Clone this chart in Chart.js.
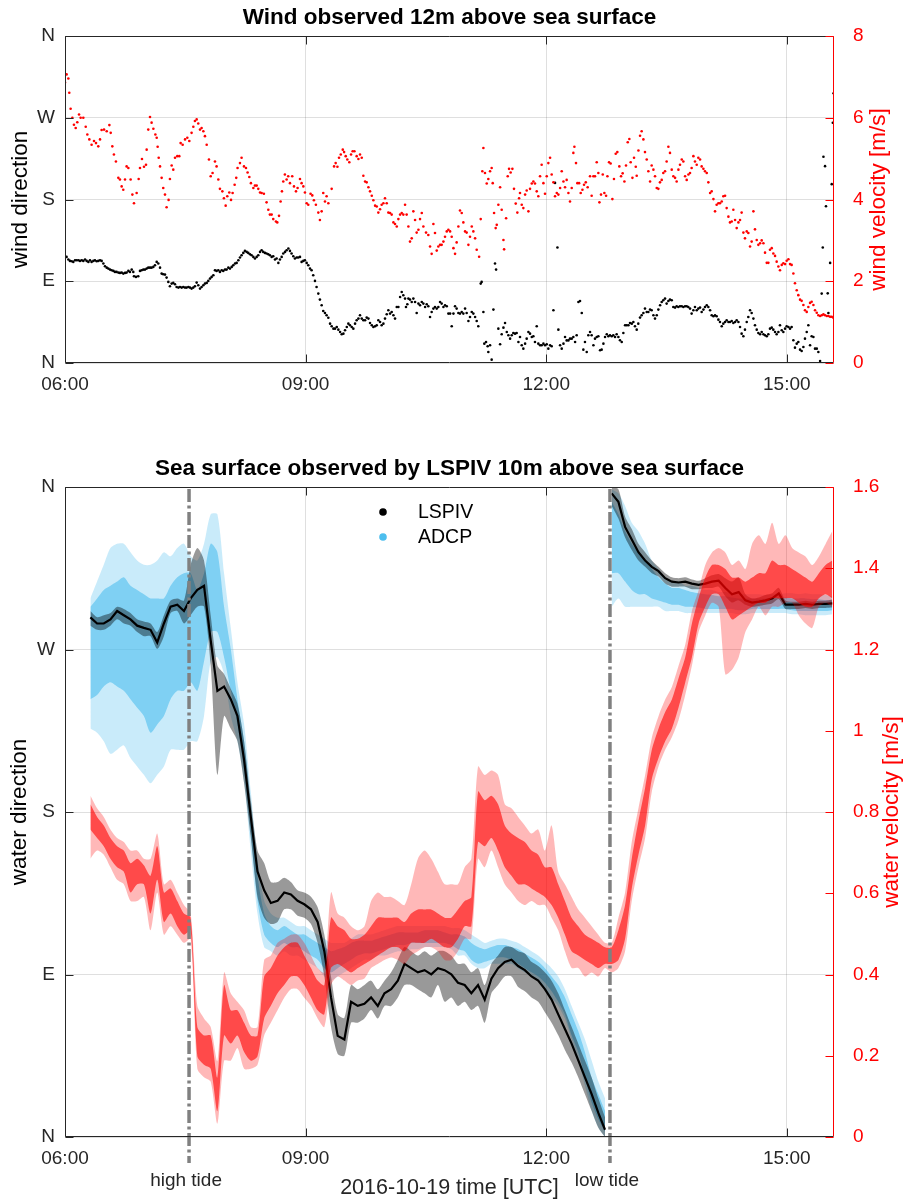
<!DOCTYPE html>
<html>
<head>
<meta charset="utf-8">
<script src="https://cdn.jsdelivr.net/npm/chart.js@4.4.1/dist/chart.umd.min.js"></script>
<style>
  body { margin: 0; background: #fff; }
  .panel { position: absolute; left: 0; }
</style>
</head>
<body>
<div class="panel" style="top:0"><canvas id="windChart" width="905" height="400"></canvas></div>
<div class="panel" style="top:420px"><canvas id="seaChart" width="905" height="780"></canvas></div>
<script>
// time axis is in minutes after 06:00 UTC
const timeTicks = [0, 180, 360, 540];
const timeLabels = ['06:00', '09:00', '12:00', '15:00'];
const timeMax = 575.3;
const dirTicks = [0, 90, 180, 270, 360];
const dirLabels = ['N', 'E', 'S', 'W', 'N'];
const windSpeedTicks = [0, 2, 4, 6, 8];
const waterSpeedTicks = [0, 0.2, 0.4, 0.6, 0.8, 1, 1.2, 1.4, 1.6];
const waterSpeedLabels = ['0', '0.2', '0.4', '0.6', '0.8', '1', '1.2', '1.4', '1.6'];
const tideTimes = [92.8, 407.7];
const tideLabels = ['high tide', 'low tide'];

// top panel: [minute, m/s]
const windSpeed = [
  [0,6.86],[1.2,7.06],[2.5,6.96],[3.2,6.61],[4.2,6.22],[5.5,6.0],[6.7,5.83],[8.0,5.75],[9.2,5.89],[10.5,6.08],
  [11.7,6.0],[13.7,6.0],[15.5,5.78],[16.7,5.59],[18.2,5.47],[19.9,5.34],[21.7,5.43],[23.2,5.38],[24.9,5.30],[26.2,5.47],
  [27.4,5.70],[29.2,5.71],[31.2,5.67],[33.2,5.82],[34.2,5.63],[35.4,5.30],[36.6,5.10],[38.1,4.93],[39.9,4.53],[41.1,4.49],
  [42.4,4.32],[43.6,4.24],[44.9,4.49],[46.1,4.81],[47.4,4.77],[49.1,4.49],[50.4,4.12],[51.6,3.91],[53.6,4.16],[55.1,4.50],
  [56.1,4.77],[57.6,4.99],[59.1,4.80],[60.6,4.85],[61.1,5.22],[62.3,5.71],[63.6,6.02],[64.8,5.88],[66.1,5.73],[67.6,5.59],
  [68.6,5.51],[69.3,5.29],[70.1,5.02],[71.1,4.81],[72.3,4.53],[73.5,4.28],[74.8,4.12],[76.0,3.81],[77.5,3.99],[78.5,4.50],
  [79.8,4.83],[81.0,4.73],[82.3,5.02],[84.0,5.06],[85.5,5.06],[86.5,5.38],[88.0,5.34],[89.8,5.47],[91.5,5.51],[93.0,5.43],
  [94.7,5.63],[96.0,5.78],[97.2,5.92],[98.5,5.96],[99.7,5.86],[101.0,5.71],[102.2,5.75],[103.5,5.67],[104.7,5.55],[106.0,5.34],
  [107.7,4.98],[109.0,4.57],[110.4,4.65],[112.2,4.93],[113.4,4.81],[114.7,4.49],[115.9,4.26],[117.7,4.20],[118.9,4.03],[120.2,3.85],
  [121.4,4.08],[122.9,4.17],[124.2,3.99],[125.4,4.16],[126.9,4.36],[128.1,4.53],[129.1,4.77],[130.9,4.89],[132.1,5.02],[133.9,4.81],
  [135.4,4.77],[136.6,4.66],[137.9,4.55],[139.1,4.40],[140.9,4.28],[142.1,4.34],[143.4,4.34],[144.6,4.26],[145.9,4.17],[147.1,4.16],
  [148.8,4.14],[150.8,3.93],[152.1,3.75],[153.3,3.63],[154.6,3.63],[155.8,3.52],[157.8,3.46],[158.8,3.44],[160.1,3.60],[161.3,3.95],
  [162.3,4.20],[163.3,4.44],[164.5,4.61],[165.8,4.49],[167.0,4.57],[168.3,4.40],[170.0,4.57],[171.3,4.32],[172.8,4.20],[174.0,4.28],
  [175.8,4.50],[177.0,4.40],[178.3,4.32],[179.5,4.17],[180.8,3.91],[182.0,3.87],[183.7,4.14],[185.0,4.10],[186.2,3.98],[187.7,3.87],
  [189.5,3.68],[190.7,3.50],[192.0,3.71],[193.2,4.16],[194.5,3.95],[195.7,4.08],[197.0,3.91],[199.5,4.26],[201.3,4.81],[202.5,4.89],
  [203.8,4.80],[205.0,5.02],[206.3,5.10],[207.8,5.22],[208.8,5.16],[210.0,5.06],[211.2,4.98],[212.7,4.91],[214.0,5.10],[215.2,5.18],
  [216.5,5.18],[218.2,5.06],[219.5,4.99],[220.7,5.10],[222.0,5.02],[223.2,4.58],[224.5,4.44],[225.7,4.42],[227.0,4.30],[228.2,4.20],
  [229.5,4.09],[230.7,3.98],[232.0,3.85],[233.2,3.83],[234.4,3.68],[235.7,3.76],[236.9,3.87],[238.2,3.91],[239.4,4.03],[240.7,3.91],
  [241.9,3.68],[243.2,3.67],[244.4,3.63],[245.7,3.44],[246.9,3.40],[248.2,3.34],[249.4,3.52],[250.7,3.63],[251.9,3.67],[253.1,3.63],
  [254.4,3.87],[255.6,3.63],[256.9,3.34],[258.1,2.97],[259.4,3.05],[260.6,3.71],[261.9,3.50],[263.1,3.19],[264.4,3.26],[265.6,3.52],
  [266.9,3.67],[268.1,3.34],[270.1,3.19],[271.8,3.13],[273.1,2.85],[274.3,2.67],[275.6,3.40],[276.8,3.18],[278.1,2.75],[279.3,2.85],
  [280.6,2.89],[281.8,2.89],[283.1,2.97],[284.3,3.09],[285.6,3.22],[286.8,3.26],[288.1,3.22],[289.3,3.09],[290.6,2.81],[291.8,2.67],
  [293.0,2.95],[294.3,3.34],[295.5,3.73],[296.8,3.67],[298.0,3.44],[299.3,3.22],[300.5,3.19],[301.8,2.89],[303.0,3.09],[304.3,3.34],
  [305.5,3.22],[306.8,3.05],[308.0,2.77],[309.8,2.60],[311.0,3.52],[312.2,4.69],[313.0,5.26],[314.2,4.65],[315.5,4.39],[316.7,4.50],
  [318.0,4.69],[319.2,4.77],[320.0,4.40],[321.0,3.67],[322.2,3.30],[323.0,3.38],[324.2,3.87],[325.5,4.30],[326.7,3.75],[328.0,3.01],
  [328.5,2.78],[330.0,3.54],[331.2,4.57],[332.2,4.75],[333.4,4.66],[334.7,4.75],[335.9,4.26],[337.2,3.90],[338.4,3.68],[339.7,4.03],
  [340.4,4.16],[341.7,3.87],[342.9,3.79],[344.2,4.12],[345.4,4.22],[346.7,3.71],[347.9,4.26],[349.2,4.39],[350.4,4.44],[351.6,4.39],
  [352.9,4.20],[354.1,4.08],[355.4,4.57],[356.6,4.85],[357.9,4.40],[359.1,4.14],[360.4,4.57],[361.6,4.89],[362.9,5.02],[364.1,4.61],
  [365.4,4.42],[366.6,4.08],[367.9,4.16],[369.1,4.12],[370.4,4.28],[371.6,4.69],[372.9,4.44],[374.1,4.30],[375.3,4.48],[376.6,4.16],
  [377.8,3.95],[379.1,4.28],[380.3,5.14],[381.1,5.29],[382.3,4.89],[383.3,4.40],[384.6,4.40],[385.8,4.16],[387.1,4.24],[388.3,4.36],
  [389.6,4.42],[391.0,4.30],[392.8,4.57],[394.0,4.09],[395.3,4.57],[396.5,4.57],[397.8,4.91],[399.0,4.65],[399.8,3.93],[401.0,4.12],
  [402.3,4.61],[403.5,4.16],[404.8,4.09],[405.8,4.57],[407.0,4.91],[408.2,4.88],[409.5,4.01],[410.7,4.50],[412.0,5.12],[413.2,5.16],
  [414.7,4.81],[416.0,4.57],[417.2,4.64],[418.5,4.44],[419.7,4.83],[421.0,5.40],[422.2,5.48],[423.2,4.91],[424.5,4.53],[425.7,5.02],
  [427.0,4.80],[427.7,4.58],[429.0,5.20],[430.2,5.56],[431.4,5.67],[432.7,5.47],[433.9,5.16],[435.2,4.98],[436.4,4.69],[437.7,4.44],
  [438.9,4.83],[440.2,4.73],[441.4,4.57],[442.7,4.28],[443.9,4.26],[445.1,4.42],[446.4,4.48],[447.6,4.65],[448.9,4.69],[450.1,4.93],
  [451.4,5.29],[452.6,5.14],[453.9,4.73],[455.1,4.57],[456.4,4.53],[457.6,4.44],[458.9,4.73],[460.1,4.85],[461.4,4.98],[462.6,4.93],
  [463.9,4.57],[465.1,4.48],[466.4,4.61],[467.6,4.65],[468.8,4.77],[470.1,5.06],[471.3,4.93],[472.6,4.85],[473.8,5.02],[475.1,4.98],
  [476.3,4.81],[477.6,4.75],[478.8,4.69],[480.1,4.65],[481.3,4.42],[482.6,4.16],[483.8,4.20],[485.1,4.01],[486.3,3.71],[487.5,3.87],
  [488.8,3.91],[490.0,3.91],[491.3,3.95],[492.5,4.08],[493.8,4.09],[495.0,3.79],[496.3,3.58],[497.5,3.44],[498.8,3.46],[500.0,3.75],
  [501.3,3.50],[502.5,3.30],[503.8,3.44],[505.0,3.50],[506.2,3.68],[507.5,3.19],[508.7,3.05],[510.0,3.22],[511.2,3.18],[512.5,2.85],
  [513.7,2.97],[515.0,3.71],[516.2,3.27],[517.5,3.01],[518.7,2.89],[520.0,2.93],[521.2,3.00],[522.5,2.93],[523.7,2.70],[525.0,2.45],
  [526.2,2.45],[527.4,2.77],[528.7,2.81],[529.9,2.68],[531.2,2.62],[532.4,2.48],[533.7,2.36],[534.9,2.27],[536.2,2.40],[537.4,2.44],
  [538.7,2.42],[539.9,2.50],[541.2,2.54],[542.4,2.42],[543.6,2.40],[544.9,2.19],[546.1,1.95],[547.4,1.78],[548.6,1.66],[549.9,1.55],
  [551.1,1.52],[552.4,1.42],[553.6,1.29],[554.9,1.25],[556.1,1.37],[557.4,1.47],[558.6,1.50],[559.9,1.42],[561.1,1.29],[562.4,1.23],
  [563.6,1.17],[564.9,1.15],[566.1,1.17],[567.4,1.19],[568.6,1.17],[569.9,1.15],[571.1,1.15],[572.4,1.13],[573.6,1.13],[574.8,1.11]
];

// top panel: [minute, degrees from N]
const windDirection = [
  [0,117.5],[1.2,116.8],[2.5,113.9],[3.7,112.4],[5.0,112.0],[6.2,111.3],[7.5,113.1],[8.7,113.1],[10.0,113.1],[11.2,112.4],
  [12.5,113.1],[13.7,112.4],[15.0,113.9],[16.2,112.4],[17.5,111.3],[18.7,113.1],[19.9,111.3],[21.2,112.4],[22.4,113.1],[23.7,112.0],
  [24.9,112.4],[26.2,113.1],[27.4,112.4],[28.7,109.5],[29.9,106.5],[31.2,105.0],[32.4,103.9],[33.7,102.8],[34.9,102.1],[36.2,101.4],
  [37.4,100.3],[38.6,100.3],[39.9,99.5],[41.1,99.2],[42.4,99.5],[43.6,98.4],[44.9,99.2],[46.1,99.5],[47.4,101.4],[48.6,100.3],
  [49.9,102.8],[51.1,100.3],[51.6,95.5],[53.1,94.8],[54.8,95.5],[56.1,101.4],[57.3,102.1],[58.6,102.8],[59.8,102.8],[61.1,103.9],
  [62.3,105.0],[63.6,105.0],[64.8,105.0],[66.1,105.8],[67.3,107.6],[68.6,111.3],[69.8,109.5],[71.1,105.0],[72.3,98.4],[73.5,97.7],
  [74.8,97.3],[76.0,94.0],[77.3,89.3],[78.5,84.5],[79.8,87.4],[81.0,88.2],[82.3,86.7],[83.5,83.7],[84.8,83.0],[86.0,83.7],
  [87.3,83.0],[88.5,83.7],[89.8,83.0],[91.0,83.0],[92.3,83.7],[93.5,83.0],[94.7,81.9],[96.0,83.0],[97.2,84.5],[98.5,88.5],
  [99.7,85.6],[101.0,81.9],[102.2,83.7],[103.5,85.6],[104.7,87.4],[106.0,88.2],[107.2,90.4],[108.5,92.9],[109.7,94.8],[111.0,96.6],
  [112.2,102.1],[113.4,101.4],[114.7,102.1],[115.9,100.3],[117.2,102.1],[118.4,101.4],[119.7,102.8],[120.9,102.8],[122.2,105.0],[123.4,103.9],
  [124.7,105.8],[125.9,107.6],[127.2,109.5],[128.4,110.2],[129.7,113.1],[130.9,116.1],[132.1,118.6],[133.4,121.2],[134.6,123.4],[135.9,122.3],
  [137.1,121.2],[138.4,119.7],[139.6,118.6],[140.9,116.8],[142.1,115.0],[143.4,116.8],[144.6,118.6],[145.9,122.3],[147.1,124.1],[148.3,122.3],
  [149.6,121.2],[150.8,120.5],[152.1,119.7],[153.3,118.6],[154.6,116.8],[155.8,117.5],[157.1,113.9],[158.3,115.0],[159.6,110.2],[160.8,113.9],
  [162.1,116.8],[163.3,120.5],[164.6,122.3],[165.8,124.1],[167.1,126.0],[168.3,123.4],[169.5,120.5],[170.8,117.5],[172.0,115.0],[173.3,116.1],
  [174.5,116.1],[175.8,116.8],[177.0,111.3],[178.3,112.4],[179.5,113.1],[180.8,110.2],[182.0,107.6],[183.3,103.9],[184.5,102.1],[185.7,96.6],
  [187.0,90.4],[188.2,83.7],[189.5,76.4],[190.7,69.8],[192.0,63.5],[193.2,57.3],[194.5,55.1],[195.7,52.5],[197.0,49.8],[198.3,43.3],
  [199.5,40.4],[200.8,37.8],[202.0,37.8],[203.3,39.7],[204.5,36.7],[205.8,34.2],[207.0,31.6],[208.3,32.3],[209.5,36.0],[210.8,39.7],
  [212.0,43.3],[213.2,41.5],[214.5,39.7],[215.7,37.8],[217.0,43.3],[218.2,47.0],[219.5,48.9],[220.7,52.5],[222.0,48.9],[223.2,47.0],
  [224.5,47.0],[225.7,50.0],[227.0,48.9],[228.2,44.1],[229.5,41.5],[230.7,39.7],[232.0,40.4],[233.2,41.5],[234.4,47.0],[235.7,45.2],
  [236.9,41.5],[238.2,43.3],[239.4,48.9],[240.7,53.6],[241.9,58.0],[243.2,54.4],[244.4,56.2],[245.7,52.5],[246.9,48.9],[248.2,61.7],
  [249.4,61.7],[250.7,72.7],[251.9,78.2],[253.1,74.6],[254.4,70.9],[255.1,61.7],[256.1,64.6],[256.9,70.9],[258.1,69.8],[259.4,67.2],
  [260.6,70.9],[261.9,67.2],[263.1,55.1],[264.4,65.4],[265.6,63.5],[266.9,67.2],[268.1,65.4],[269.4,61.7],[270.6,64.6],[271.8,62.4],
  [273.1,50.7],[274.3,56.2],[275.6,59.9],[276.8,61.7],[278.1,59.9],[279.3,61.7],[280.6,67.2],[281.8,65.4],[283.1,61.7],[284.3,63.5],
  [285.6,62.4],[286.8,54.4],[288.1,54.4],[289.3,40.4],[290.6,54.4],[291.8,62.4],[293.0,59.9],[294.3,55.1],[295.5,54.4],[296.8,56.2],
  [298.0,54.4],[299.3,59.9],[300.5,55.1],[301.8,46.3],[303.0,50.7],[304.3,56.2],[305.5,54.4],[306.8,50.7],[308.0,46.3],[309.2,40.4],
  [311.0,87.4],[311.7,89.3],[313.0,56.2],[313.7,21.3],[315.0,23.1],[316.2,18.4],[316.7,12.1],[318.0,19.5],[319.2,3.7],[320.5,58.8],
  [321.7,109.5],[322.5,102.8],[324.2,37.8],[325.5,20.6],[326.7,31.6],[328.0,38.9],[329.2,44.1],[330.5,34.2],[331.7,30.5],[333.0,26.8],
  [334.2,30.5],[335.4,33.1],[336.7,32.3],[337.9,33.1],[339.2,23.1],[340.4,28.6],[341.7,19.5],[342.9,15.8],[344.2,21.3],[345.4,26.8],
  [346.7,34.2],[347.9,32.3],[349.2,28.6],[350.4,29.4],[351.6,23.1],[352.9,40.4],[354.1,21.3],[355.4,19.5],[356.6,19.5],[357.9,21.3],
  [359.1,19.5],[360.4,20.6],[361.6,15.8],[362.9,19.5],[364.1,18.4],[365.4,58.0],[366.6,198.3],[368.4,127.1],[369.1,36.7],[370.4,19.5],
  [371.6,15.8],[372.9,21.3],[374.1,28.6],[375.3,24.9],[376.6,24.9],[377.8,26.8],[379.1,26.8],[380.3,28.6],[381.6,23.1],[382.8,30.5],
  [384.1,67.2],[385.3,68.3],[386.6,55.1],[387.8,14.7],[389.0,23.1],[390.3,12.1],[391.5,30.5],[392.8,34.2],[394.0,30.5],[395.3,19.5],
  [396.5,26.8],[397.8,28.6],[399.0,29.4],[400.3,14.0],[401.5,14.7],[402.8,21.3],[404.0,28.6],[405.3,31.6],[406.5,29.4],[407.7,30.5],
  [409.0,29.4],[410.2,30.5],[411.5,28.6],[412.7,31.6],[414.0,28.6],[415.2,25.0],[416.5,23.1],[417.7,33.1],[419.0,41.5],[420.2,41.5],
  [421.5,41.5],[422.7,44.1],[424.0,43.3],[425.2,45.2],[426.4,40.4],[427.7,36.7],[428.9,43.3],[430.2,50.0],[431.4,52.5],[432.7,55.1],
  [433.9,59.9],[435.2,56.2],[436.4,56.2],[437.7,58.8],[438.9,58.0],[440.2,52.5],[441.4,48.9],[442.7,52.5],[443.9,58.8],[445.2,63.5],
  [446.4,67.2],[447.6,69.1],[448.9,70.9],[450.1,65.4],[451.4,68.3],[452.6,69.8],[453.9,69.1],[455.1,61.7],[456.4,61.0],[457.6,62.4],
  [458.8,61.7],[460.1,62.4],[461.4,62.4],[462.6,61.7],[463.9,62.4],[465.1,62.4],[466.3,61.7],[467.6,59.9],[468.8,54.4],[470.1,58.0],
  [471.3,61.7],[472.6,58.0],[473.8,59.9],[475.1,61.0],[476.3,56.2],[477.6,58.8],[478.8,61.7],[480.1,63.5],[481.3,61.7],[482.6,58.0],
  [483.8,52.5],[485.1,51.4],[486.3,52.5],[487.5,51.4],[488.8,47.7],[490.0,45.2],[491.3,40.4],[492.5,43.3],[493.8,45.2],[495.0,47.0],
  [496.3,45.2],[497.5,45.2],[498.8,46.3],[500.0,44.1],[501.3,45.2],[502.5,47.0],[503.8,45.2],[505.0,39.7],[506.2,32.3],[507.5,29.4],
  [508.7,36.7],[510.0,45.2],[511.2,50.7],[512.5,58.0],[513.7,55.1],[515.0,48.9],[516.2,41.5],[517.5,36.7],[518.7,33.1],[520.0,31.6],
  [521.2,34.2],[522.5,31.6],[523.7,30.5],[525.0,29.4],[526.2,31.6],[527.4,37.8],[528.7,38.9],[529.9,36.7],[531.2,34.2],[532.4,31.6],
  [533.7,34.2],[534.9,41.5],[536.2,36.0],[537.4,34.2],[538.7,37.8],[539.9,40.4],[541.2,39.7],[542.4,37.8],[543.6,39.7],[544.9,25.0],
  [546.1,16.9],[547.4,21.3],[548.6,23.1],[549.9,14.7],[551.1,13.2],[552.4,17.6],[553.6,26.8],[554.9,34.2],[556.1,41.5],[557.4,19.5],
  [558.6,29.4],[559.9,28.6],[561.1,15.8],[562.4,15.8],[563.6,12.1],[564.9,2.2],[566.1,76.4],[566.9,127.1],[567.4,227.0],[568.6,216.7],
  [569.3,172.6],[570.6,76.7],[571.1,55.1],[572.4,110.2],[573.6,196.9],[574.4,264.5],[575.0,296.9]
];

// bottom panel: 5-minute bins, spread of each cloud (outer) and its dense part (core)
const bottomTimes = [
  19,24,29,34,39,44,49,54,59,64, 69,74,79,84,89,94,99,104,109,114,
  119,124,129,134,139,144,149,154,159,164, 169,174,179,184,189,194,199,204,209,214,
  219,224,229,234,239,244,249,254,259,264, 269,274,279,284,289,294,299,304,309,314,
  319,324,329,334,339,344,349,354,359,364, 369,374,379,384,389,394,399,404,409,414,
  419,424,429,434,439,444,449,454,459,464, 469,474,479,484,489,494,499,504,509,514,
  519,524,529,534,539,544,549,554,559,564, 569,574
];

const lspivDir = [
  287.8,284.4,284.4,286.7,291.3,289.0,286.7,283.2,282.0,280.9, 273.9,284.4,293.7,294.8,291.3,298.3,303.0,305.3,275.1,247.1,
  249.5,242.5,233.2,208.7,177.3,147.1,136.6,129.6,130.8,135.4, 134.3,130.8,128.9,126.1,119.1,102.9,77.3,56.0,54.0,74.9,
  72.6,73.8,77.3,72.6,79.6,81.9,86.6,95.9,93.5,91.2, 92.4,90.1,93.5,92.4,90.1,
  85.4,84.2,79.6,84.2,76.1,87.7,93.5,97.0,98.2,94.7, 92.4,88.9,86.6,81.9,76.1,67.9,59.8,51.7,42.4,33.0,
  23.7,13.3,4.0,356.5,351.8,337.9,330.9,323.9,319.3,315.8, 313.4,309.5,307.6,307.1,307.6,306.5,305.8,306.5,307.6,308.1,
  304.1,300.6,301.8,297.2,296.0,296.5,297.2,298.3,301.1,294.8, 294.8,294.8,295.3,294.8,295.3,295.3,295.5
];
const lspivLow = [
  283.2,280.9,280.9,283.2,286.7,284.4,283.2,279.7,277.4,277.4, 270.4,277.4,290.2,291.3,284.4,289.0,293.7,293.7,261.1,200.6,
  233.2,226.2,219.2,195.9,165.7,133.1,121.5,118.0,119.1,126.1, 126.1,122.6,121.5,118.0,107.5,88.9,61.0,46.0,45.0,63.3,
  63.3,65.6,70.3,65.6,72.6,72.6,77.3,84.2,84.2,81.9, 79.6,77.3,84.2,74.9,77.3,
  72.6,74.9,70.3,72.6,63.3,79.6,84.2,88.9,88.9,83.1, 80.7,77.3,74.9,69.1,63.3,56.3,48.2,41.2,33.0,23.7,
  14.4,5.1,0,349.5,342.5,332.0,325.1,319.3,315.8,312.3, 310.4,306.5,304.8,304.8,304.8,303.4,303.4,304.1,304.1,304.8,
  299.5,296.0,297.2,294.8,293.7,294.1,294.8,295.5,297.9,292.5, 292.5,292.5,293.0,292.5,293.0,293.0,293.2
];
const lspivHigh = [
  291.3,287.9,289.0,290.2,293.7,292.5,290.2,286.7,285.5,284.4, 279.7,289.0,297.2,298.3,297.2,316.9,326.2,319.3,289.0,261.1,
  256.4,248.3,240.1,219.2,186.6,158.7,151.7,141.2,141.2,143.6, 141.2,136.6,135.4,133.1,127.3,112.2,88.9,68.0,66.0,84.2,
  81.9,84.2,86.6,81.9,86.6,91.2,98.2,105.2,102.9,100.5, 102.9,100.5,102.9,102.9,100.5,
  95.9,95.9,91.2,93.5,84.2,95.9,100.5,105.2,105.2,102.9, 101.7,97.0,94.7,91.2,86.6,79.6,70.3,61.0,51.7,42.4,
  33.0,21.4,10.9,360,358.8,343.7,336.7,328.6,323.9,319.3, 315.8,312.3,310.0,309.5,310.0,308.8,308.1,309.5,311.1,311.8,
  309.5,307.6,309.9,300.6,298.3,298.8,300.2,301.1,304.1,297.2, 296.5,296.5,297.0,296.5,297.0,297.0,297.7
];

const adcpLow = [
  226.2,223.9,219.2,212.2,214.5,216.9,209.9,205.2,200.6,195.9, 200.6,205.2,214.5,214.5,214.5,219.2,219.2,233.2,263.4,265.7,
  256.4,233.2,219.2,195.9,158.7,123.8,105.2,102.9,100.5,102.9, 100.5,100.5,98.2,95.9,93.5,88.9,86.6,88.9,91.2,93.5,
  95.9,98.2,98.2,100.5,100.5,101.7,102.9,102.9,104.0,104.0, 105.2,105.2,105.2,105.2,104.0,
  100.5,100.5,95.9,93.5,93.5,95.9,95.9,95.9,95.9,93.5, 91.2,88.9,86.6,81.9,77.3,72.6,65.6,54.0,42.4,28.4,
  14.4,5.1,0,293.7,298.3,293.7,293.7,293.7,293.7,293.7, 293.7,291.3,291.3,291.3,290.2,290.2,290.2,290.2,290.2,290.2,
  290.2,290.2,289.5,289.5,290.2,290.2,290.2,290.2,290.2,290.2, 289.5,289.5,289.0,289.0,289.0,289.0,289.5
];
const adcpHigh = [
  298.3,307.6,316.9,326.2,328.6,328.6,323.9,319.3,316.9,316.9, 319.3,323.9,321.6,326.2,328.6,321.6,319.3,328.6,344.9,344.9,
  312.3,282.0,251.8,228.5,191.3,154.0,130.8,123.8,121.5,121.5, 119.1,116.8,116.8,114.5,112.2,109.8,107.5,107.5,107.5,109.8,
  112.2,112.2,112.2,113.3,114.5,115.7,116.8,116.8,116.8,116.8, 116.8,116.8,116.8,116.8,115.7,
  115.7,114.5,112.2,109.8,107.5,108.7,109.8,109.8,108.7,107.5, 105.2,102.9,100.5,97.0,93.5,88.9,81.9,72.6,63.3,54.0,
  42.4,30.7,21.4,358.8,356.5,349.5,340.2,335.5,328.6,319.3, 314.6,310.0,307.6,307.6,305.3,305.3,304.1,303.0,303.0,301.8,
  301.8,301.1,300.6,300.6,300.6,300.6,300.2,300.6,300.6,301.1, 301.1,300.6,301.1,300.6,300.6,300.2,299.5
];
const adcpCoreLow = [
  242.5,244.8,249.5,251.8,249.5,247.1,242.5,237.8,233.2,223.9, 228.5,233.2,242.5,247.1,247.1,251.8,247.1,263.4,279.7,279.7,
  265.7,247.1,228.5,202.9,168.0,130.8,112.2,107.5,105.2,107.5, 105.2,105.2,102.9,100.5,98.2,93.5,91.2,93.5,95.9,98.2,
  100.5,101.7,101.7,102.9,104.0,105.2,106.3,106.3,107.5,107.5, 107.5,107.5,107.5,107.5,106.3,
  104.0,102.9,98.2,95.9,97.0,98.2,99.4,99.4,98.2,95.9, 93.5,91.2,88.9,85.4,80.7,74.9,67.9,56.3,47.0,33.0,
  19.1,9.8,2.8,312.3,312.3,307.6,303.0,300.6,300.6,298.3, 297.2,296.0,294.8,294.8,293.7,293.7,293.2,292.5,292.5,292.5,
  292.5,292.5,291.8,291.8,292.5,292.5,292.5,292.5,292.5,292.5, 291.8,291.3,291.3,291.3,291.3,291.3,291.8
];
const adcpCoreHigh = [
  293.7,298.3,303.0,305.3,307.6,310.0,305.3,303.0,300.6,298.3, 298.3,298.3,305.3,310.0,312.3,312.3,303.0,312.3,328.6,323.9,
  293.7,270.4,242.5,219.2,182.0,144.7,123.8,116.8,114.5,116.8, 114.5,112.2,112.2,109.8,107.5,105.2,102.9,104.0,105.2,107.5,
  108.7,108.7,108.7,109.8,111.0,112.2,113.3,113.3,113.3,113.3, 114.5,114.5,114.5,113.3,112.2,
  112.2,111.0,107.5,105.2,104.0,105.2,106.3,106.3,105.2,104.0, 101.7,99.4,97.0,93.5,88.9,84.2,77.3,67.9,58.6,47.0,
  33.0,23.7,14.4,351.8,344.9,335.5,328.6,323.9,319.3,314.6, 310.0,306.5,304.1,304.1,303.0,301.8,301.1,300.6,300.2,299.5,
  299.5,298.8,298.3,298.3,298.3,298.3,298.3,298.3,298.3,298.8, 298.3,298.3,298.3,297.9,297.9,297.4,297.2
];

const speedLow = [
  0.685,0.705,0.695,0.664,0.633,0.622,0.581,0.581,0.591,0.509, 0.602,0.498,0.519,0.498,0.478,0.488,0.168,0.147,0.136,0.033,
  0.188,0.188,0.219,0.168,0.168,0.178,0.250,0.281,0.312,0.343, 0.364,0.364,0.343,0.323,0.292,0.271,0.374,0.395,0.385,0.374,
  0.385,0.390,0.416,0.426,0.436,0.442,0.436,0.426,0.447,0.457, 0.467,0.467,0.457,0.436,0.436,
  0.457,0.488,0.488,0.685,0.664,0.705,0.664,0.622,0.602,0.581, 0.571,0.581,0.571,0.571,0.540,0.509,0.457,0.416,0.416,0.395,
  0.405,0.395,0.416,0.405,0.416,0.457,0.581,0.664,0.736,0.850, 0.912,0.953,0.984,1.026,1.088,1.160,1.243,1.284,1.315,1.305,
  1.139,1.150,1.181,1.243,1.274,1.305,1.284,1.305,1.305,1.315, 1.315,1.284,1.264,1.253,1.305,1.315,1.305
];
const speedHigh = [
  0.840,0.809,0.788,0.757,0.736,0.726,0.705,0.705,0.685,0.685, 0.747,0.622,0.633,0.602,0.571,0.550,0.323,0.292,0.271,0.188,
  0.405,0.354,0.333,0.312,0.271,0.271,0.436,0.447,0.478,0.488, 0.498,0.498,0.478,0.447,0.416,0.405,0.602,0.550,0.540,0.519,
  0.509,0.519,0.581,0.602,0.591,0.591,0.581,0.571,0.622,0.685, 0.705,0.685,0.653,0.622,0.622,
  0.622,0.664,0.685,0.912,0.891,0.902,0.891,0.819,0.809,0.788, 0.767,0.747,0.757,0.705,0.767,0.653,0.622,0.591,0.560,0.540,
  0.519,0.498,0.478,0.478,0.540,0.602,0.726,0.809,0.891,0.983, 1.036,1.077,1.108,1.160,1.212,1.295,1.346,1.408,1.439,1.450,
  1.439,1.408,1.419,1.398,1.460,1.481,1.460,1.512,1.460,1.481, 1.450,1.439,1.429,1.408,1.429,1.460,1.491
];
const speedCoreLow = [
  0.757,0.736,0.716,0.685,0.664,0.653,0.602,0.622,0.622,0.550, 0.633,0.529,0.550,0.519,0.498,0.509,0.199,0.178,0.168,0.064,
  0.250,0.230,0.250,0.209,0.188,0.199,0.292,0.323,0.354,0.374, 0.395,0.395,0.374,0.343,0.312,0.302,0.416,0.426,0.416,0.405,
  0.416,0.426,0.436,0.447,0.457,0.467,0.467,0.457,0.478,0.478, 0.478,0.488,0.478,0.467,0.467,
  0.488,0.519,0.519,0.726,0.716,0.736,0.705,0.664,0.643,0.622, 0.622,0.612,0.602,0.591,0.571,0.540,0.498,0.457,0.447,0.436,
  0.426,0.416,0.426,0.426,0.436,0.488,0.612,0.695,0.767,0.881, 0.933,0.974,1.005,1.057,1.119,1.181,1.264,1.305,1.336,1.336,
  1.305,1.274,1.284,1.295,1.305,1.315,1.315,1.326,1.326,1.326, 1.326,1.315,1.305,1.305,1.326,1.336,1.326
];
const speedCoreHigh = [
  0.819,0.788,0.767,0.736,0.716,0.705,0.674,0.685,0.669,0.643, 0.716,0.602,0.612,0.581,0.550,0.540,0.271,0.250,0.250,0.147,
  0.374,0.312,0.312,0.281,0.250,0.250,0.395,0.416,0.447,0.467, 0.478,0.478,0.447,0.416,0.385,0.374,0.540,0.519,0.509,0.488,
  0.488,0.498,0.519,0.540,0.540,0.540,0.540,0.529,0.550,0.560, 0.560,0.560,0.550,0.540,0.540,
  0.560,0.581,0.591,0.850,0.829,0.840,0.819,0.767,0.747,0.736, 0.726,0.705,0.695,0.664,0.664,0.622,0.581,0.540,0.519,0.498,
  0.488,0.478,0.467,0.467,0.509,0.571,0.685,0.778,0.860,0.953, 1.005,1.046,1.077,1.129,1.181,1.264,1.326,1.377,1.408,1.408,
  1.398,1.377,1.377,1.367,1.377,1.388,1.388,1.419,1.408,1.408, 1.398,1.388,1.377,1.367,1.388,1.408,1.419
];

const FONT = '"Liberation Sans", Arial, Helvetica, sans-serif';
const INK = '#262626';
const RED = '#ff0000';
const BLUE = '#4dbeee';
const GRID = 'rgba(38,38,38,0.15)';

Chart.defaults.font.family = FONT;
Chart.defaults.color = INK;

// box, inward ticks, titles, tide markers and legend
const frame = {
  id: 'frame',
  afterDatasetsDraw(chart, args, opts) {
    const { ctx, chartArea: a, scales } = chart;
    const right = scales.y2;
    ctx.save();

    if (opts.tides) {
      ctx.strokeStyle = '#808080';
      ctx.lineWidth = 3.5;
      ctx.setLineDash([13, 3.5, 3, 3.5]);
      tideTimes.forEach(t => {
        const px = scales.x.getPixelForValue(t);
        ctx.beginPath();
        ctx.moveTo(px, a.top + 2);
        ctx.lineTo(px, a.bottom + 26);
        ctx.stroke();
      });
      ctx.setLineDash([]);
      ctx.fillStyle = INK;
      ctx.font = '19px ' + FONT;
      ctx.textAlign = 'center';
      ctx.textBaseline = 'middle';
      tideTimes.forEach((t, i) => {
        ctx.fillText(tideLabels[i], scales.x.getPixelForValue(t) - 3, a.bottom + 44);
      });
    }

    // frame box
    ctx.lineWidth = 1;
    ctx.strokeStyle = INK;
    const L = Math.round(a.left) + 0.5, R = Math.round(a.right) - 0.5;
    const T = Math.round(a.top) + 0.5, B = Math.round(a.bottom) - 0.5;
    ctx.beginPath();
    ctx.moveTo(R, T); ctx.lineTo(L, T); ctx.lineTo(L, B); ctx.lineTo(R, B);
    ctx.stroke();
    ctx.strokeStyle = RED;
    ctx.beginPath(); ctx.moveTo(R, T); ctx.lineTo(R, B); ctx.stroke();

    // inward tick marks
    const tl = 8;
    ctx.strokeStyle = INK;
    ctx.beginPath();
    scales.x.ticks.forEach(t => {
      const px = Math.round(scales.x.getPixelForValue(t.value)) + 0.5;
      ctx.moveTo(px, B); ctx.lineTo(px, B - tl);
      ctx.moveTo(px, T); ctx.lineTo(px, T + tl);
    });
    scales.y.ticks.forEach(t => {
      const py = Math.round(scales.y.getPixelForValue(t.value)) + 0.5;
      ctx.moveTo(L, py); ctx.lineTo(L + tl, py);
    });
    ctx.stroke();
    ctx.strokeStyle = RED;
    ctx.beginPath();
    right.ticks.forEach(t => {
      const py = Math.round(right.getPixelForValue(t.value)) + 0.5;
      ctx.moveTo(R, py); ctx.lineTo(R - tl, py);
    });
    ctx.stroke();

    // titles
    const midY = (a.top + a.bottom) / 2;
    ctx.textAlign = 'center';
    ctx.textBaseline = 'middle';
    ctx.fillStyle = '#000';
    ctx.font = 'bold 22.5px ' + FONT;
    ctx.fillText(opts.title, (a.left + a.right) / 2, a.top - 18);

    ctx.font = '22.5px ' + FONT;
    ctx.save();
    ctx.translate(opts.leftTitleX, midY);
    ctx.rotate(-Math.PI / 2);
    ctx.fillStyle = '#000';
    ctx.fillText(opts.leftTitle, 0, 0);
    ctx.restore();
    ctx.save();
    ctx.translate(opts.rightTitleX, midY);
    ctx.rotate(-Math.PI / 2);
    ctx.fillStyle = RED;
    ctx.fillText(opts.rightTitle, 0, 0);
    ctx.restore();

    if (opts.xTitle) {
      ctx.fillStyle = INK;
      ctx.font = '21.5px ' + FONT;
      ctx.fillText(opts.xTitle, (a.left + a.right) / 2, a.bottom + 51);
    }

    if (opts.legend) {
      const lx = a.left + 318;
      chart.data.datasets.filter(d => d.legendColor).forEach((d, i) => {
        const ly = a.top + 25 + i * 25;
        ctx.fillStyle = d.legendColor;
        ctx.beginPath(); ctx.arc(lx, ly, 3.8, 0, Math.PI * 2); ctx.fill();
        ctx.fillStyle = '#000';
        ctx.font = '19.5px ' + FONT;
        ctx.textAlign = 'left';
        ctx.fillText(d.label, lx + 35, ly + 1);
      });
    }
    ctx.restore();
  }
};

function timeAxis(height) {
  return {
    type: 'linear', min: 0, max: timeMax, offset: false,
    afterBuildTicks: s => { s.ticks = timeTicks.map(v => ({ value: v })); },
    afterFit: s => { s.height = height; },
    ticks: { callback: (v, i) => timeLabels[i], font: { size: 19 }, color: INK, padding: 10, maxRotation: 0, autoSkip: false },
    grid: { color: GRID, drawTicks: false, offset: false },
    border: { display: false }
  };
}
function directionAxis() {
  return {
    position: 'left', min: 0, max: 360,
    afterBuildTicks: s => { s.ticks = dirTicks.map(v => ({ value: v })); },
    afterFit: s => { s.width = 65; },
    ticks: { callback: (v, i) => dirLabels[i], font: { size: 19 }, color: INK, padding: 10 },
    grid: { color: GRID, drawTicks: false },
    border: { display: false }
  };
}
function speedAxis(max, values, labels) {
  return {
    position: 'right', min: 0, max: max,
    afterBuildTicks: s => { s.ticks = values.map(v => ({ value: v })); },
    afterFit: s => { s.width = 71; },
    ticks: { callback: (v, i) => labels[i], font: { size: 19 }, color: RED, padding: 11 },
    grid: { display: false, drawOnChartArea: false },
    border: { display: false }
  };
}

new Chart(document.getElementById('windChart'), {
  type: 'scatter',
  data: {
    datasets: [
      { label: 'wind velocity', data: windSpeed.map(([t, v]) => ({ x: t, y: v })), yAxisID: 'y2',
        backgroundColor: RED, borderWidth: 0, pointRadius: 1.3 },
      { label: 'wind direction', data: windDirection.map(([t, v]) => ({ x: t, y: v })), yAxisID: 'y',
        backgroundColor: '#000', borderWidth: 0, pointRadius: 1.3 }
    ]
  },
  options: {
    responsive: false, animation: false, events: [],
    layout: { padding: { top: 36, left: 0, right: 0, bottom: 0 } },
    scales: {
      x: timeAxis(37),
      y: directionAxis(),
      y2: speedAxis(8, windSpeedTicks, windSpeedTicks.map(String))
    },
    plugins: {
      legend: { display: false }, tooltip: { enabled: false },
      frame: { title: 'Wind observed 12m above sea surface', leftTitle: 'wind direction', leftTitleX: 21,
               rightTitle: 'wind velocity [m/s]', rightTitleX: 879 }
    }
  },
  plugins: [frame]
});

// points of one series on the 5-minute grid; a gap is left where the direction wraps N -> N
function gridPoints(values) {
  const pts = [];
  bottomTimes.forEach((t, i) => {
    if (i > 0 && Math.abs(values[i] - values[i - 1]) > 180) pts.push({ x: (t + bottomTimes[i - 1]) / 2, y: null });
    pts.push({ x: t, y: values[i] });
  });
  return pts;
}
// a shaded band between two series: upper edge first, the lower edge fills back to it
function band(label, lo, hi, color, axis, order, extra) {
  const edge = { type: 'line', yAxisID: axis, order: order, borderWidth: 0, pointRadius: 0, tension: 0.25, spanGaps: false };
  return [
    Object.assign({}, edge, { label: label, data: gridPoints(hi), fill: false }, extra || {}),
    Object.assign({}, edge, { label: label + ' lower', data: gridPoints(lo), fill: '-1', backgroundColor: color })
  ];
}

new Chart(document.getElementById('seaChart'), {
  type: 'scatter',
  data: {
    datasets: [
      ...band('velocity core', speedCoreLow, speedCoreHigh, 'rgba(255,0,0,0.6)', 'y2', 1),
      ...band('velocity spread', speedLow, speedHigh, 'rgba(255,0,0,0.28)', 'y2', 2),
      { type: 'line', label: 'LSPIV', legendColor: '#000', yAxisID: 'y', order: 3,
        data: gridPoints(lspivDir), borderColor: '#000', borderWidth: 2.2, pointRadius: 0, tension: 0, spanGaps: false },
      ...band('LSPIV spread', lspivLow, lspivHigh, 'rgba(0,0,0,0.4)', 'y', 4),
      ...band('ADCP', adcpCoreLow, adcpCoreHigh, 'rgba(77,190,238,0.6)', 'y', 5, { legendColor: BLUE }),
      ...band('ADCP spread', adcpLow, adcpHigh, 'rgba(77,190,238,0.3)', 'y', 6)
    ]
  },
  options: {
    responsive: false, animation: false, events: [],
    layout: { padding: { top: 67, left: 0, right: 0, bottom: 0 } },
    scales: {
      x: timeAxis(63),
      y: directionAxis(),
      y2: speedAxis(1.6, waterSpeedTicks, waterSpeedLabels)
    },
    plugins: {
      legend: { display: false }, tooltip: { enabled: false },
      filler: { propagate: false },
      frame: { title: 'Sea surface observed by LSPIV 10m above sea surface', leftTitle: 'water direction', leftTitleX: 20,
               rightTitle: 'water velocity [m/s]', rightTitleX: 892, xTitle: '2016-10-19 time [UTC]',
               tides: true, legend: true }
    }
  },
  plugins: [frame]
});
</script>
</body>
</html>
